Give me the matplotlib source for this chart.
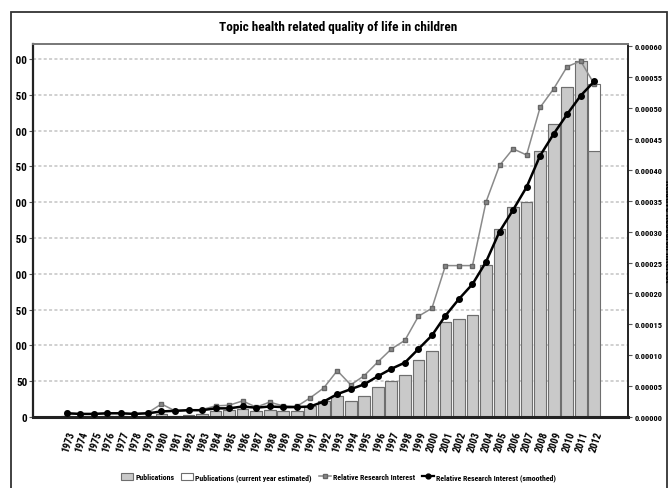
import os
import matplotlib
matplotlib.use('Agg')
import matplotlib.pyplot as plt
from matplotlib import font_manager
from matplotlib.font_manager import FontProperties
from matplotlib.patches import Rectangle, Patch
from matplotlib.lines import Line2D
from matplotlib.transforms import Bbox
import numpy as np

# data
years = list(range(1973, 2013))
publications = [1, 0, 0, 1, 1, 0, 1, 4, 2, 3,
                4, 9, 10, 11, 8, 10, 9, 9, 15, 23,
                29, 22, 30, 42, 50, 59, 79, 92, 133, 137,
                143, 212, 263, 293, 300, 372, 409, 461, 497, 372]
estimated_total_2012 = 465
rri = [0.000006, 0.000005, 0.000005, 0.000006, 0.000006, 0.000005, 0.000007, 0.000021, 0.000010, 0.000011,
       0.000012, 0.000018, 0.000019, 0.000026, 0.000016, 0.000024, 0.000018, 0.000017, 0.000031, 0.000047,
       0.000075, 0.000052, 0.000067, 0.000089, 0.000110, 0.000124, 0.000163, 0.000176, 0.000245, 0.000245,
       0.000245, 0.000348, 0.000407, 0.000434, 0.000424, 0.000501, 0.000531, 0.000567, 0.000576, 0.000539]
rri_smooth = [0.000006, 0.000005, 0.000005, 0.000006, 0.000006, 0.000005, 0.000006, 0.000009, 0.000010, 0.000011,
              0.000011, 0.000014, 0.000014, 0.000017, 0.000015, 0.000017, 0.000016, 0.000016, 0.000017, 0.000025,
              0.000037, 0.000045, 0.000053, 0.000066, 0.000078, 0.000088, 0.000110, 0.000132, 0.000164, 0.000191,
              0.000215, 0.000251, 0.000300, 0.000335, 0.000372, 0.000423, 0.000458, 0.000490, 0.000520, 0.000543]
left_ticks = list(range(0, 501, 50))
right_ticks = [i * 0.00005 for i in range(13)]


def pick_font():
    # the chart uses a narrow bold face, take the narrowest one installed
    prefs = ['LiberationSansNarrow-Bold', 'RobotoCondensed-Bold', 'NotoSans-CondensedBold',
             'NotoSansCondensed-Bold', 'DejaVuSansCondensed-Bold', 'OpenSans-CondensedBold',
             'LiberationSans-Bold']
    files = font_manager.findSystemFonts() + [f.fname for f in font_manager.fontManager.ttflist]
    for p in prefs:
        for f in files:
            if os.path.basename(f).split('.')[0] == p:
                return f
    return None


font_file = pick_font()


def fp(size):
    if font_file:
        return FontProperties(fname=font_file, size=size)
    return FontProperties(family='DejaVu Sans', weight='bold', size=size)


fig = plt.figure(figsize=(6.68, 4.89), dpi=100)
ax = fig.add_axes([33/668, 71/489, 595/668, 373/489])
ax2 = ax.twinx()

x = np.arange(len(years))
est_extra = np.zeros(len(years))
est_extra[-1] = estimated_total_2012 - publications[-1]

ax.bar(x, publications, width=0.87, color='#c9c9c9', edgecolor='#6e6e6e', linewidth=0.8, zorder=2)
ax.bar(x, est_extra, bottom=publications, width=0.87, color='white', edgecolor='#6e6e6e', linewidth=0.8, zorder=2)

ax2.plot(x, rri, color='#8a8a8a', lw=1.1, marker='s', ms=3.5, mfc='#8a8a8a', mec='#666666', zorder=3)
ax2.plot(x, rri_smooth, color='black', lw=1.8, marker='o', ms=4, mfc='black', mec='black', zorder=4)

ax.set_xlim(-2.5, len(years) + 1.5)
ax.set_ylim(0, 521)
ax2.set_ylim(0, 0.0006036)

ax.set_yticks(left_ticks)
ax.set_yticklabels([str(v) for v in left_ticks], fontproperties=fp(8))
ax2.set_yticks(right_ticks)
ax2.set_yticklabels(['%.5f' % v for v in right_ticks], fontproperties=fp(6))
ax.set_xticks(x)
ax.set_xticklabels([str(y) for y in years], rotation=72, ha='right', va='top',
                   rotation_mode='anchor', fontproperties=fp(7.5))

ax.yaxis.grid(True, color='#c4c4c4', linestyle=(0, (2, 1.5)), linewidth=1.1, zorder=0)
ax.set_axisbelow(True)

ax.tick_params(axis='y', length=3, width=0.8, pad=1, color='#555555')
ax2.tick_params(axis='y', length=3, width=0.8, pad=2, color='#555555')
ax.tick_params(axis='x', length=0, pad=9)

for side in ['left', 'right', 'top', 'bottom']:
    ax.spines[side].set_visible(False)
    ax2.spines[side].set_visible(False)
ax2.spines['left'].set_visible(True)
ax2.spines['left'].set_linewidth(1.6)
ax2.spines['left'].set_color('#222222')
ax2.spines['bottom'].set_visible(True)
ax2.spines['bottom'].set_linewidth(2.2)
ax2.spines['bottom'].set_color('#222222')
ax2.spines['right'].set_visible(True)
ax2.spines['right'].set_linewidth(1.4)
ax2.spines['right'].set_color('#222222')
ax2.spines['top'].set_visible(True)
ax2.spines['top'].set_linewidth(1.4)
ax2.spines['top'].set_color('#777777')

# the reference is cropped on the left: hide the first digit of the left labels
clip = Bbox([[16, 0], [668, 489]])
for tick in ax.yaxis.get_major_ticks():
    tick.label1.set_clip_box(clip)
    tick.label1.set_clip_on(True)

fig.text(0.506, 0.943, 'Topic health related quality of life in children',
         ha='center', va='center', fontproperties=fp(9.5))
fig.text(663/668, 0.527, 'Relative Research Interest', rotation=270,
         ha='left', va='center', fontproperties=fp(7))

# outer frame (cut by the image edge at the bottom)
fig.add_artist(Rectangle((11/668, -0.1), 656/668, 1.1 - 13/489, transform=fig.transFigure,
                         fill=False, ec='#333333', lw=1.3))

handles = [Patch(facecolor='#c9c9c9', edgecolor='#6e6e6e', lw=0.8),
           Patch(facecolor='white', edgecolor='#6e6e6e', lw=0.8),
           Line2D([], [], color='#8a8a8a', lw=1.1, marker='s', ms=3, mfc='#8a8a8a', mec='#666666'),
           Line2D([], [], color='black', lw=1.6, marker='o', ms=3.5)]
labels = ['Publications', 'Publications (current year estimated)',
          'Relative Research Interest', 'Relative Research Interest (smoothed)']
fig.legend(handles, labels, loc='center', bbox_to_anchor=(0.507, 0.023), ncol=4, frameon=False,
           prop=fp(5.6), handlelength=1.5, handleheight=1.0, handletextpad=0.3, columnspacing=0.9)

fig.savefig('out.png', dpi=100)
